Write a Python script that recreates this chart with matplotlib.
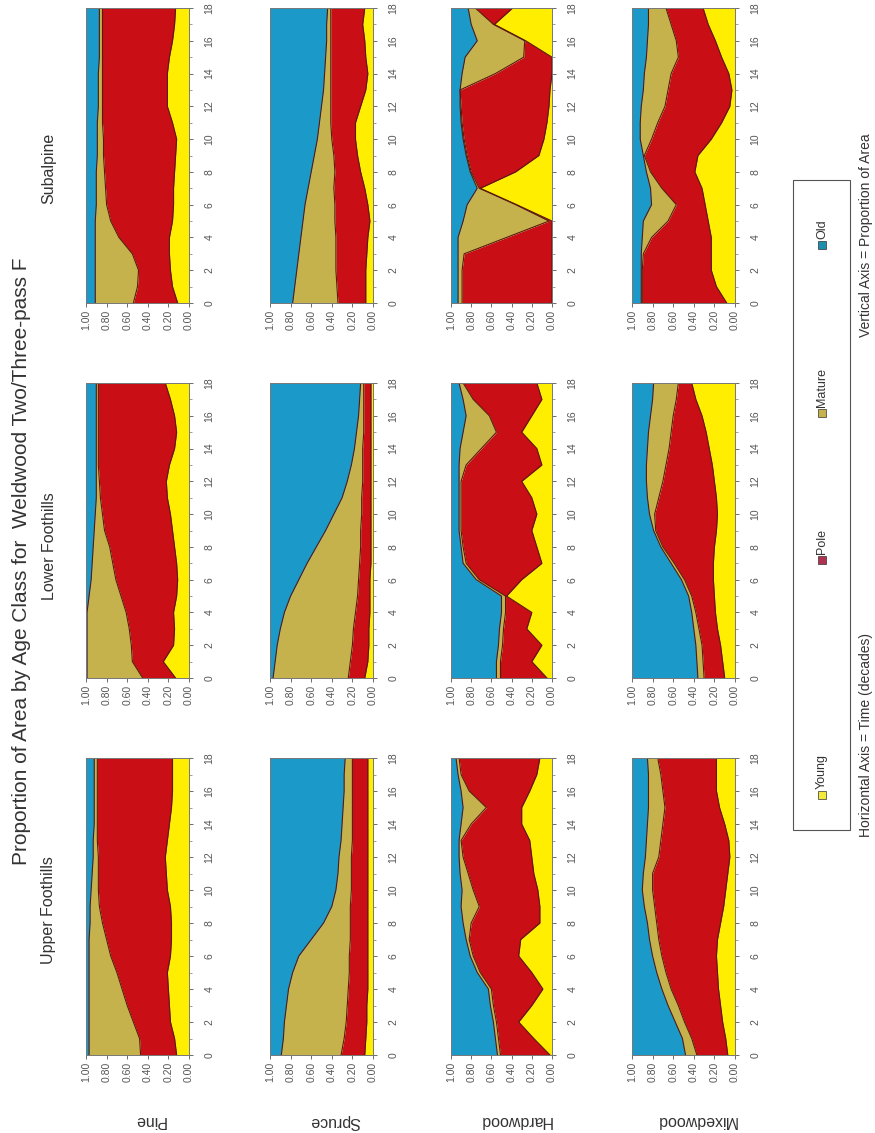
import numpy as np
import matplotlib.pyplot as plt
from matplotlib.patches import Rectangle

plt.rcParams['font.family'] = ['Liberation Sans', 'DejaVu Sans']

# time in decades, 0..18
decades = list(range(19))

# ---- Subalpine ----
sub_pine_young = [0.11,0.16,0.18,0.19,0.19,0.16,0.15,0.15,0.14,0.13,0.12,0.16,0.21,0.21,0.21,0.19,0.16,0.14,0.13]
sub_pine_pole = [0.43,0.34,0.31,0.36,0.49,0.60,0.65,0.66,0.68,0.70,0.71,0.68,0.63,0.63,0.63,0.65,0.68,0.70,0.71]
sub_pine_mature = [0.37,0.41,0.42,0.36,0.23,0.15,0.10,0.09,0.08,0.06,0.06,0.05,0.04,0.04,0.04,0.03,0.03,0.03,0.03]

sub_spruce_young = [0.07,0.07,0.07,0.06,0.05,0.03,0.05,0.08,0.12,0.15,0.17,0.17,0.12,0.07,0.05,0.07,0.08,0.10,0.08]
sub_spruce_pole = [0.27,0.28,0.29,0.30,0.31,0.34,0.32,0.30,0.25,0.23,0.23,0.24,0.29,0.34,0.36,0.34,0.33,0.31,0.33]
sub_spruce_mature = [0.44,0.41,0.38,0.36,0.34,0.31,0.29,0.25,0.23,0.19,0.14,0.11,0.09,0.07,0.06,0.05,0.04,0.04,0.03]

sub_hard_young = [0.00,0.00,0.00,0.00,0.00,0.00,0.35,0.71,0.36,0.13,0.08,0.05,0.03,0.02,0.00,0.00,0.26,0.57,0.39]
sub_hard_pole = [0.89,0.89,0.89,0.87,0.45,0.03,0.01,0.01,0.44,0.71,0.79,0.84,0.87,0.89,0.56,0.28,0.01,0.01,0.37]
sub_hard_mature = [0.04,0.04,0.04,0.06,0.48,0.85,0.48,0.02,0.01,0.01,0.01,0.01,0.01,0.00,0.33,0.58,0.47,0.22,0.07]

sub_mixed_young = [0.08,0.18,0.23,0.23,0.23,0.26,0.29,0.32,0.39,0.36,0.23,0.13,0.05,0.03,0.06,0.13,0.19,0.26,0.31]
sub_mixed_pole = [0.82,0.72,0.67,0.66,0.58,0.39,0.28,0.39,0.43,0.52,0.58,0.62,0.63,0.62,0.56,0.42,0.38,0.36,0.36]
sub_mixed_mature = [0.01,0.01,0.01,0.02,0.09,0.24,0.24,0.11,0.04,0.01,0.11,0.17,0.23,0.24,0.26,0.31,0.28,0.22,0.17]

# ---- Lower Foothills ----
low_pine_young = [0.13,0.25,0.15,0.14,0.15,0.12,0.11,0.12,0.14,0.16,0.18,0.21,0.22,0.19,0.14,0.12,0.14,0.18,0.23]
low_pine_pole = [0.32,0.30,0.41,0.44,0.46,0.54,0.60,0.62,0.63,0.66,0.66,0.65,0.65,0.69,0.74,0.76,0.74,0.70,0.65]
low_pine_mature = [0.54,0.44,0.43,0.41,0.38,0.31,0.24,0.20,0.16,0.10,0.07,0.04,0.03,0.02,0.02,0.02,0.02,0.02,0.02]

low_spruce_young = [0.08,0.05,0.04,0.04,0.03,0.03,0.03,0.02,0.02,0.02,0.02,0.02,0.02,0.02,0.02,0.02,0.02,0.02,0.02]
low_spruce_pole = [0.16,0.17,0.16,0.15,0.14,0.12,0.11,0.11,0.10,0.10,0.09,0.09,0.08,0.08,0.08,0.07,0.07,0.07,0.07]
low_spruce_mature = [0.73,0.73,0.73,0.71,0.69,0.65,0.58,0.51,0.43,0.34,0.27,0.19,0.15,0.11,0.08,0.07,0.05,0.04,0.03]

low_hard_young = [0.05,0.20,0.10,0.25,0.20,0.45,0.30,0.10,0.15,0.20,0.15,0.20,0.30,0.10,0.15,0.30,0.20,0.10,0.15]
low_hard_pole = [0.46,0.31,0.39,0.23,0.26,0.01,0.42,0.75,0.73,0.70,0.75,0.70,0.60,0.75,0.55,0.25,0.42,0.68,0.73]
low_hard_mature = [0.04,0.04,0.04,0.04,0.04,0.04,0.03,0.03,0.02,0.02,0.02,0.02,0.02,0.07,0.21,0.33,0.23,0.10,0.04]

low_mixed_young = [0.10,0.12,0.14,0.17,0.19,0.20,0.21,0.21,0.20,0.18,0.17,0.18,0.20,0.22,0.25,0.28,0.32,0.38,0.42]
low_mixed_pole = [0.20,0.19,0.18,0.18,0.19,0.22,0.28,0.38,0.50,0.59,0.61,0.56,0.50,0.45,0.39,0.34,0.28,0.19,0.13]
low_mixed_mature = [0.06,0.06,0.06,0.05,0.04,0.03,0.03,0.03,0.02,0.02,0.05,0.11,0.16,0.19,0.21,0.22,0.22,0.23,0.24]

# ---- Upper Foothills ----
up_pine_young = [0.12,0.14,0.18,0.19,0.20,0.21,0.18,0.17,0.17,0.18,0.21,0.22,0.23,0.21,0.19,0.17,0.16,0.16,0.16]
up_pine_pole = [0.35,0.34,0.36,0.41,0.45,0.49,0.58,0.63,0.67,0.69,0.67,0.66,0.65,0.68,0.70,0.72,0.73,0.73,0.73]
up_pine_mature = [0.50,0.49,0.43,0.37,0.32,0.27,0.21,0.17,0.12,0.09,0.07,0.06,0.05,0.04,0.03,0.03,0.03,0.03,0.03]

up_spruce_young = [0.08,0.07,0.06,0.06,0.05,0.05,0.05,0.05,0.05,0.05,0.05,0.05,0.05,0.05,0.05,0.05,0.05,0.05,0.05]
up_spruce_pole = [0.23,0.21,0.20,0.19,0.19,0.18,0.18,0.17,0.17,0.17,0.16,0.16,0.16,0.15,0.15,0.15,0.15,0.15,0.15]
up_spruce_mature = [0.58,0.59,0.60,0.59,0.58,0.55,0.49,0.38,0.26,0.18,0.15,0.13,0.12,0.11,0.10,0.09,0.08,0.08,0.07]

up_hard_young = [0.02,0.18,0.33,0.20,0.09,0.20,0.33,0.31,0.12,0.12,0.14,0.18,0.20,0.22,0.30,0.30,0.22,0.15,0.12]
up_hard_pole = [0.49,0.35,0.22,0.38,0.51,0.51,0.45,0.51,0.68,0.60,0.64,0.65,0.68,0.68,0.50,0.35,0.60,0.75,0.80]
up_hard_mature = [0.03,0.03,0.03,0.03,0.03,0.03,0.03,0.03,0.08,0.18,0.11,0.08,0.04,0.02,0.10,0.23,0.08,0.03,0.03]

up_mixed_young = [0.07,0.09,0.12,0.14,0.16,0.17,0.18,0.17,0.14,0.11,0.09,0.07,0.05,0.06,0.10,0.15,0.18,0.18,0.18]
up_mixed_pole = [0.30,0.33,0.37,0.41,0.46,0.50,0.53,0.57,0.62,0.67,0.71,0.73,0.69,0.66,0.60,0.53,0.52,0.54,0.57]
up_mixed_mature = [0.11,0.09,0.09,0.10,0.09,0.09,0.09,0.09,0.09,0.10,0.10,0.09,0.13,0.14,0.15,0.16,0.14,0.12,0.10]

species = ['Pine', 'Spruce', 'Hardwood', 'Mixedwood']
regions = ['Subalpine', 'Lower Foothills', 'Upper Foothills']
classes = ['Young', 'Pole', 'Mature', 'Old']
colors = ['#FFEE00', '#C90E15', '#C6B24C', '#1B99C8']
legend_colors = ['#F2EA3A', '#B23050', '#C6B24C', '#1B8FB0']

panels = {
    ('Subalpine', 'Pine'): (sub_pine_young, sub_pine_pole, sub_pine_mature),
    ('Subalpine', 'Spruce'): (sub_spruce_young, sub_spruce_pole, sub_spruce_mature),
    ('Subalpine', 'Hardwood'): (sub_hard_young, sub_hard_pole, sub_hard_mature),
    ('Subalpine', 'Mixedwood'): (sub_mixed_young, sub_mixed_pole, sub_mixed_mature),
    ('Lower Foothills', 'Pine'): (low_pine_young, low_pine_pole, low_pine_mature),
    ('Lower Foothills', 'Spruce'): (low_spruce_young, low_spruce_pole, low_spruce_mature),
    ('Lower Foothills', 'Hardwood'): (low_hard_young, low_hard_pole, low_hard_mature),
    ('Lower Foothills', 'Mixedwood'): (low_mixed_young, low_mixed_pole, low_mixed_mature),
    ('Upper Foothills', 'Pine'): (up_pine_young, up_pine_pole, up_pine_mature),
    ('Upper Foothills', 'Spruce'): (up_spruce_young, up_spruce_pole, up_spruce_mature),
    ('Upper Foothills', 'Hardwood'): (up_hard_young, up_hard_pole, up_hard_mature),
    ('Upper Foothills', 'Mixedwood'): (up_mixed_young, up_mixed_pole, up_mixed_mature),
}

# page is turned on its side: pixel layout of the panels
W, H = 875, 1133
col_x = {'Pine': (86, 189), 'Spruce': (270, 373), 'Hardwood': (451, 552), 'Mixedwood': (632, 735)}
row_y = {'Subalpine': (8, 303), 'Lower Foothills': (383, 678), 'Upper Foothills': (758, 1055)}


def fx(x):
    return x / W


def fy(y):
    return 1 - y / H


fig = plt.figure(figsize=(W / 100, H / 100), dpi=100)

for (region, sp), (young, pole, mature) in panels.items():
    x0, x1 = col_x[sp]
    y0, y1 = row_y[region]
    ax = fig.add_axes([fx(x0), fy(y1), (x1 - x0) / W, (y1 - y0) / H])
    t = np.array(decades)
    top1 = np.array(young)
    top2 = top1 + np.array(pole)
    top3 = top2 + np.array(mature)
    edges = [np.zeros_like(top1), top1, top2, top3, np.ones_like(top1)]
    for i in range(4):
        ax.fill_betweenx(t, edges[i], edges[i + 1], color=colors[i], lw=0)
    for e in edges[1:4]:
        ax.plot(e, t, color='#5a1a0a', lw=0.8)
    ax.set_xlim(1, 0)
    ax.set_ylim(0, 18)
    ax.set_xticks(np.arange(0, 1.01, 0.2))
    ax.set_xticklabels([f'{v:.2f}' for v in np.arange(0, 1.01, 0.2)], rotation=90, fontsize=7.5, color='#333')
    ax.yaxis.tick_right()
    ax.set_yticks(range(0, 19, 2))
    ax.set_yticklabels([str(v) for v in range(0, 19, 2)], rotation=90, fontsize=7.5, color='#444', va='center')
    ax.set_yticks(range(19), minor=True)
    ax.tick_params(axis='x', direction='out', length=3, width=0.6, pad=2, colors='#555')
    ax.tick_params(axis='y', which='major', direction='out', length=3, width=0.6, pad=8, colors='#555')
    ax.tick_params(axis='y', which='minor', direction='out', length=2, width=0.5, colors='#777')
    for s in ax.spines.values():
        s.set_color('#777')
        s.set_linewidth(0.7)

# title and headers
fig.text(fx(22), fy(561), 'Proportion of Area by Age Class for  Weldwood Two/Three-pass F',
         rotation=90, ha='center', va='center', fontsize=15, color='#333')
for region, yc in [('Subalpine', 168), ('Lower Foothills', 546), ('Upper Foothills', 910)]:
    fig.text(fx(49), fy(yc), region, rotation=90, ha='center', va='center', fontsize=11.5, color='#333')
for sp, xc in [('Pine', 150), ('Spruce', 335), ('Hardwood', 515), ('Mixedwood', 696)]:
    fig.text(fx(xc), fy(1121), sp, rotation=180, ha='center', va='center', fontsize=11.5, color='#333')

# legend box
fig.patches.append(Rectangle((fx(793), fy(830)), (850 - 793) / W, (830 - 180) / H,
                             transform=fig.transFigure, fill=False, ec='#555', lw=0.8))
for name, col, ys in zip(classes, legend_colors, [795, 560, 413, 245]):
    fig.patches.append(Rectangle((fx(818), fy(ys + 4)), 8 / W, 8 / H, transform=fig.transFigure,
                                 fc=col, ec='#333', lw=0.5))
    fig.text(fx(822), fy(ys - 6), name, rotation=90, ha='center', va='bottom', fontsize=9, color='#333')

fig.text(fx(866), fy(735), 'Horizontal Axis = Time (decades)', rotation=90, ha='center', va='center',
         fontsize=10, color='#333')
fig.text(fx(866), fy(235), 'Vertical Axis = Proportion of Area', rotation=90, ha='center', va='center',
         fontsize=10, color='#333')

fig.savefig('out.png', dpi=100)
